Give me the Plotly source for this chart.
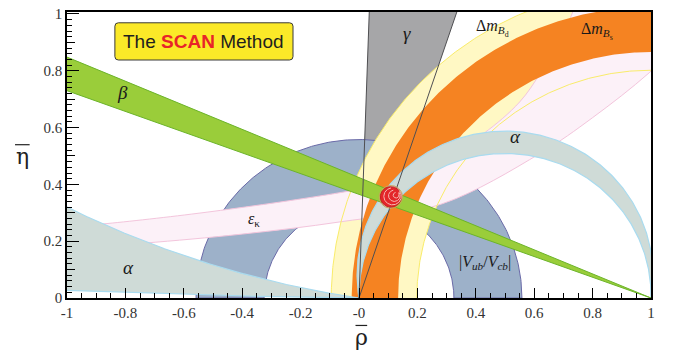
import numpy as np
import plotly.graph_objects as go

# ---------------- values ----------------
vub_radii = [0.325, 0.558]            # |Vub/Vcb| annulus around (0,0)
dmd_radii = [0.802, 1.095]            # Delta m_Bd annulus around (1,0)
dms_radii = [0.866, 1.025]            # Delta m_Bs annulus around (1,0)
gamma_deg = [71.6, 88.0]              # gamma wedge from (0,0)
beta_deg = [20.05, 22.98]             # beta wedge from (1,0)
alpha_band_deg = [80.8, 89.0]         # alpha band (arcs through (0,0),(1,0))
alpha_mirror_deg = [0.72, 8.65]       # mirror alpha solution (left)
epsk_low_rho = [-1.0, -0.738, -0.4, -0.065, 0.283, 0.62, 0.8, 0.996, 1.2]
epsk_low_eta = [0.174, 0.193, 0.225, 0.268, 0.331, 0.509, 0.635, 0.795, 1.0]
epsk_up_rho = [-1.0, -0.863, -0.5, -0.065, 0.1, 0.25, 0.425, 0.55, 0.62, 0.7, 0.78, 1.2]
epsk_up_eta = [0.25, 0.262, 0.305, 0.371, 0.405, 0.47, 0.578, 0.69, 0.79, 0.93, 1.08, 1.25]
apex = [0.109, 0.356]
apex_ring_r = [0.030, 0.020, 0.010]

x_tick_vals = [-1, -0.8, -0.6, -0.4, -0.2, 0, 0.2, 0.4, 0.6, 0.8, 1]
x_tick_text = ["-1", "-0.8", "-0.6", "-0.4", "-0.2", "-0", "0.2", "0.4", "0.6", "0.8", "1"]
y_tick_vals = [0, 0.2, 0.4, 0.6, 0.8, 1]
y_tick_text = ["0", "0.2", "0.4", "0.6", "0.8", "1"]

labels = [
    ("<i>β</i>", -0.81, 0.725, 19),
    ("<i>γ</i>", 0.165, 0.93, 19),
    ("Δ<i>m</i><sub><i>B</i><sub>d</sub></sub>", 0.458, 0.95, 16),
    ("Δ<i>m</i><sub><i>B</i><sub>s</sub></sub>", 0.815, 0.94, 16),
    ("<i>α</i>", 0.535, 0.57, 19),
    ("<i>α</i>", -0.79, 0.108, 19),
    ("<i>ε</i><sub>κ</sub>", -0.36, 0.275, 16),
    ("|<i>V</i><sub><i>ub</i></sub>/<i>V</i><sub><i>cb</i></sub>|", 0.43, 0.125, 16),
]

# ---------------- geometry helpers ----------------
def annulus(cx, cy, r_in, r_out, a0, a1, n=240):
    t = np.radians(np.linspace(a0, a1, n))
    xo = cx + r_out * np.cos(t); yo = cy + r_out * np.sin(t)
    xi = cx + r_in * np.cos(t[::-1]); yi = cy + r_in * np.sin(t[::-1])
    return np.concatenate([xo, xi, xo[:1]]), np.concatenate([yo, yi, yo[:1]])

def arc(cx, cy, r, a0, a1, n=240):
    t = np.radians(np.linspace(a0, a1, n))
    return cx + r * np.cos(t), cy + r * np.sin(t)

def alpha_arc(a_deg, n=300):
    # circle through (0,0),(1,0) on which the angle subtended is alpha
    a = np.radians(a_deg)
    c = 0.5 / np.tan(a); r = 0.5 / np.sin(a)
    d = np.arctan2(c, 0.5)
    t = np.linspace(-d, np.pi + d, n)
    return 0.5 + r * np.cos(t), c + r * np.sin(t)

def alpha_low_arc(a_deg, x):
    a = np.radians(a_deg)
    c = 0.5 / np.tan(a)
    return c - np.sqrt(c * c + x - x * x)

fig = go.Figure()

def poly(x, y, fill, line_color=None, lw=0, shape="linear"):
    fig.add_trace(go.Scatter(x=x, y=y, mode="lines", fill="toself", fillcolor=fill,
                             line=dict(color=line_color or fill, width=lw, shape=shape),
                             hoverinfo="skip", showlegend=False))

def line(x, y, color, lw=1):
    fig.add_trace(go.Scatter(x=x, y=y, mode="lines", line=dict(color=color, width=lw),
                             hoverinfo="skip", showlegend=False))

# gamma wedge (fill)
L = 1.3
g0, g1 = np.radians(gamma_deg)
poly([0, L * np.cos(g0), L * np.cos(g1), 0], [0, L * np.sin(g0), L * np.sin(g1), 0], "#a6a6a8")

# |Vub/Vcb|
x, y = annulus(0, 0, vub_radii[0], vub_radii[1], 0, 180)
poly(x, y, "#9db1c9", "#6a6aa8", 1)

# Delta m_d
x, y = annulus(1, 0, dmd_radii[0], dmd_radii[1], 90, 180)
poly(x, y, "#fff8c4", "#fff8c4", 0)

# epsilon_K
ex = list(epsk_up_rho) + list(epsk_low_rho[::-1])
ey = list(epsk_up_eta) + list(epsk_low_eta[::-1])
poly(ex + ex[:1], ey + ey[:1], "#fcf1f8", "#f3c5dc", 1, "spline")

# Delta m_d edges
for r in dmd_radii:
    ax, ay = arc(1, 0, r, 90, 180)
    line(ax, ay, "#f9ec6a", 1)

# Delta m_s
x, y = annulus(1, 0, dms_radii[0], dms_radii[1], 90, 180)
poly(x, y, "#f58322", "#f58322", 0)

# alpha band
xo, yo = alpha_arc(alpha_band_deg[0])
xi, yi = alpha_arc(alpha_band_deg[1])
poly(np.concatenate([xo, xi[::-1]]), np.concatenate([yo, yi[::-1]]), "#cfdbd7", "#a9dbef", 1.2)

# mirror alpha solution
xs = np.linspace(-1.2, 0, 300)
yu = alpha_low_arc(alpha_mirror_deg[1], xs)
yl = alpha_low_arc(alpha_mirror_deg[0], xs)
poly(np.concatenate([xs, xs[::-1]]), np.concatenate([yu, yl[::-1]]), "#cfdbd7", "#a9dbef", 1.2)

# beta wedge
Lb = 2.6
b0, b1 = np.radians(beta_deg)
poly([1, 1 - Lb * np.cos(b0), 1 - Lb * np.cos(b1), 1], [0, Lb * np.sin(b0), Lb * np.sin(b1), 0],
     "#9acd3a", "#6cb42a", 1)

# gamma edges on top
for g in (g0, g1):
    line([0, L * np.cos(g)], [0, L * np.sin(g)], "#4f4f52", 1)

# apex blob
cx, cy = apex
bx, by = arc(cx, cy, 0.040, 0, 360, 120)
line(bx, by, "#c9a45a", 1)
bx, by = arc(cx, cy, 0.036, 0, 360, 120)
poly(bx, by, "#e3262a", "#c81e22", 1)
for i, r in enumerate(apex_ring_r):
    bx, by = arc(cx + 0.006 * (i + 1), cy + 0.002 * (i + 1), r, 100, 400, 100)
    line(bx, by, "#f6b7b0", 1)

# ---------------- labels ----------------
ann = []
for txt, lx, ly, fs in labels:
    ann.append(dict(x=lx, y=ly, xref="x", yref="y", text=txt, showarrow=False,
                    xanchor="center", yanchor="middle",
                    font=dict(family="Liberation Serif", size=fs, color="#1a1a1a")))

# SCAN box text
ann.append(dict(x=-0.531, y=0.902, xref="x", yref="y", showarrow=False,
                xanchor="center", yanchor="middle",
                text="The <span style='color:#e82429'><b>SCAN</b></span> Method",
                font=dict(family="Liberation Sans", size=19, color="#1f1f1f")))

# axis titles
ann.append(dict(x=0.504, y=-0.137, xref="paper", yref="paper", text="ρ", showarrow=False,
                xanchor="center", yanchor="middle",
                font=dict(family="DejaVu Serif", size=22, color="#222")))
ann.append(dict(x=-0.077, y=0.495, xref="paper", yref="paper", text="η", showarrow=False,
                xanchor="center", yanchor="middle",
                font=dict(family="DejaVu Serif", size=22, color="#222")))

bx0, bx1, by0, by1 = -0.836, -0.226, 0.838, 0.969
rr = 0.012
box_path = (f"M {bx0+rr},{by0} L {bx1-rr},{by0} Q {bx1},{by0} {bx1},{by0+rr} "
            f"L {bx1},{by1-rr} Q {bx1},{by1} {bx1-rr},{by1} L {bx0+rr},{by1} "
            f"Q {bx0},{by1} {bx0},{by1-rr} L {bx0},{by0+rr} Q {bx0},{by0} {bx0+rr},{by0} Z")

shapes = [
    dict(type="path", path=box_path, xref="x", yref="y", fillcolor="#fbe928",
         line=dict(color="#3a3a3a", width=1), layer="above"),
    dict(type="line", xref="paper", yref="paper", x0=0.494, x1=0.514, y0=-0.096, y1=-0.096,
         line=dict(color="#222", width=1.2)),
    dict(type="line", xref="paper", yref="paper", x0=-0.089, x1=-0.064, y0=0.536, y1=0.536,
         line=dict(color="#222", width=1.2)),
]

tickfont = dict(family="Liberation Serif", size=15, color="#333")
fig.update_layout(
    width=673, height=355, margin=dict(l=67, r=22, t=6, b=57),
    paper_bgcolor="white", plot_bgcolor="white", showlegend=False,
    annotations=ann, shapes=shapes,
    xaxis=dict(range=[-1, 1], tickmode="array", tickvals=x_tick_vals, ticktext=x_tick_text,
               ticks="inside", ticklen=10, tickcolor="black", tickwidth=1,
               showline=True, linecolor="black", linewidth=1.5, mirror=True,
               showgrid=False, zeroline=False, tickfont=tickfont,
               minor=dict(tickmode="linear", tick0=-1, dtick=0.05, ticks="inside",
                          ticklen=5, tickcolor="black", showgrid=False)),
    yaxis=dict(range=[0, 1.007], tickmode="array", tickvals=y_tick_vals, ticktext=y_tick_text,
               ticks="inside", ticklen=12, tickcolor="black", tickwidth=1,
               showline=True, linecolor="black", linewidth=1.5, mirror=True,
               showgrid=False, zeroline=False, tickfont=tickfont,
               minor=dict(tickmode="linear", tick0=0, dtick=0.02, ticks="inside",
                          ticklen=5, tickcolor="black", showgrid=False)),
    yaxis2=dict(range=[0, 1.007], overlaying="y", side="left", tickmode="array",
                tickvals=[0.1, 0.3, 0.5, 0.7, 0.9], ticks="inside", ticklen=8,
                tickcolor="black", showticklabels=False, showline=False,
                showgrid=False, zeroline=False),
)
fig.add_trace(go.Scatter(x=[None], y=[None], yaxis="y2", showlegend=False, hoverinfo="skip"))

fig.write_html("out.html")
